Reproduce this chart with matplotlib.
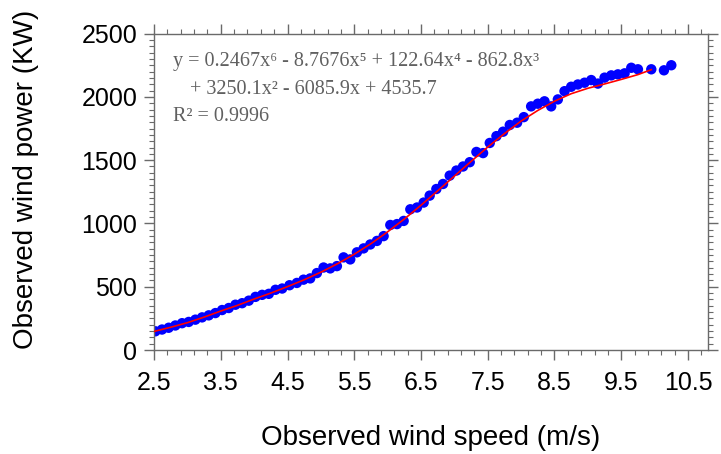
import numpy as np
import matplotlib
matplotlib.use('Agg')
import matplotlib.pyplot as plt
from matplotlib.ticker import MultipleLocator, FixedLocator

# 观测风速 / 观测功率（散点）
speed = [2.52, 2.62, 2.72, 2.82, 2.92, 3.02, 3.12, 3.22, 3.32, 3.42,
         3.52, 3.62, 3.72, 3.82, 3.92, 4.02, 4.12, 4.22, 4.32, 4.42,
         4.53, 4.64, 4.74, 4.84, 4.94, 5.04, 5.14, 5.24, 5.34, 5.44,
         5.54, 5.64, 5.74, 5.84, 5.94, 6.04, 6.14, 6.24, 6.34, 6.44,
         6.54, 6.63, 6.73, 6.83, 6.93, 7.03, 7.13, 7.23, 7.33, 7.43,
         7.53, 7.63, 7.73, 7.83, 7.94, 8.04, 8.15, 8.25, 8.35, 8.45,
         8.55, 8.65, 8.75, 8.85, 8.95, 9.05, 9.15, 9.25, 9.35, 9.45,
         9.55, 9.65, 9.75, 9.95, 10.14, 10.25]
power = [148, 162, 176, 194, 212, 222, 240, 258, 274, 292,
         316, 332, 358, 370, 390, 420, 436, 444, 476, 486,
         512, 530, 556, 566, 608, 652, 645, 663, 732, 716,
         772, 803, 834, 862, 900, 988, 995, 1020, 1112, 1126,
         1165, 1220, 1272, 1312, 1378, 1418, 1450, 1484, 1565, 1556,
         1636, 1690, 1725, 1778, 1796, 1840, 1925, 1946, 1965, 1925,
         1980, 2045, 2080, 2098, 2112, 2133, 2105, 2152, 2170, 2178,
         2186, 2230, 2218, 2218, 2210, 2250]

# 拟合曲线（红线，读图）
fit_speed = [2.5, 2.75, 3.0, 3.25, 3.5, 3.75, 4.0, 4.25, 4.5, 4.75,
             5.0, 5.25, 5.5, 5.75, 6.0, 6.25, 6.5, 6.75, 7.0, 7.25,
             7.5, 7.75, 8.0, 8.25, 8.5, 8.75, 9.0, 9.25, 9.5, 9.75, 9.95]
fit_power = [147, 180, 216, 260, 308, 353, 403, 450, 501, 555,
             615, 682, 757, 840, 934, 1035, 1144, 1258, 1374, 1490,
             1604, 1710, 1809, 1893, 1966, 2025, 2068, 2102, 2138, 2176, 2215]

xtick_labels = ['2.5', '3.5', '4.5', '5.5', '6.5', '7.5', '8.5', '9.5', '10.5']

eq_lines = ["y = 0.2467x\u2076 - 8.7676x\u2075 + 122.64x\u2074 - 862.8x\u00b3",
            "+ 3250.1x\u00b2 - 6085.9x + 4535.7",
            "R\u00b2 = 0.9996"]

plt.rcParams['font.family'] = ['Liberation Sans', 'DejaVu Sans']

fig = plt.figure(figsize=(7.21, 4.54), dpi=100)
ax = fig.add_axes([0.2136, 0.229, 0.7684, 0.697])

ax.scatter(speed, power, s=56, color='#0000ff', edgecolors='none', zorder=2)
ax.plot(fit_speed, fit_power, color='#ff0000', lw=1.2, zorder=3)

ax.set_xlim(2.5, 10.8)
ax.set_ylim(0, 2500)
ax.set_xticks(np.arange(2.5, 10.6, 1.0))
ax.set_xticklabels(xtick_labels)
ax.xaxis.set_minor_locator(FixedLocator(np.arange(2.5, 10.81, 0.2)))
ax.yaxis.set_major_locator(MultipleLocator(500))
ax.yaxis.set_minor_locator(MultipleLocator(50))

spine_col = '#6a6a6a'
for s in ax.spines.values():
    s.set_color(spine_col)
    s.set_linewidth(1.0)
ax.tick_params(which='both', direction='out', color=spine_col,
               top=True, right=True, labelsize=18)
ax.tick_params(which='major', length=7, width=1.0)
ax.tick_params(which='minor', length=3.5, width=0.8)
ax.tick_params(axis='x', pad=8)
ax.tick_params(axis='y', pad=5)

ax.set_xlabel('Observed wind speed (m/s)', fontsize=20, labelpad=22)
ax.set_ylabel('Observed wind power (KW)', fontsize=20)
ax.yaxis.set_label_coords(-0.208, 0.54)

eq_font = ['Liberation Serif', 'DejaVu Serif']
ax.text(0.034, 0.897, eq_lines[0], transform=ax.transAxes, fontsize=14.5,
        family=eq_font, color='#606060', va='baseline')
ax.text(0.065, 0.809, eq_lines[1], transform=ax.transAxes, fontsize=14.5,
        family=eq_font, color='#606060', va='baseline')
ax.text(0.034, 0.724, eq_lines[2], transform=ax.transAxes, fontsize=14.5,
        family=eq_font, color='#606060', va='baseline')

plt.savefig('out.png', dpi=100)
